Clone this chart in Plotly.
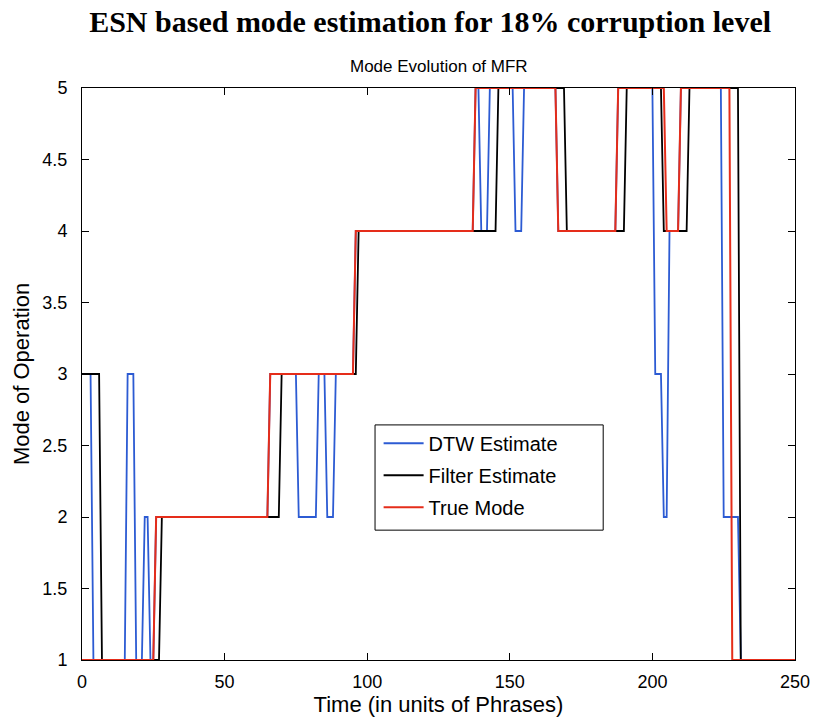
import plotly.graph_objects as go

# Mode sequences stored as change points: the mode holds from each start time
# until the next start time (time axis runs 0..250 in unit steps).
T_END = 250

true_starts = [0, 26, 66, 96, 138, 167, 188, 205, 210, 228]
true_modes  = [1, 2, 3, 4, 5, 4, 5, 4, 5, 1]

filter_starts = [0, 7, 28, 70, 97, 146, 170, 191, 204, 213, 231]
filter_modes  = [3, 1, 2, 3, 4, 5, 4, 5, 4, 5, 1]

dtw_starts = [0, 4, 16, 19, 22, 24, 26, 66, 76, 83, 86, 89, 96, 138, 140, 143,
              152, 155, 167, 188, 201, 204, 206, 210, 225, 231]
dtw_modes  = [3, 1, 3, 1, 2, 1, 2, 3, 2, 3, 2, 3, 4, 5, 4, 5,
              4, 5, 4, 5, 3, 2, 4, 5, 2, 1]

x_ticks = [0, 50, 100, 150, 200, 250]
y_ticks = [1, 1.5, 2, 2.5, 3, 3.5, 4, 4.5, 5]
y_tick_text = ["1", "1.5", "2", "2.5", "3", "3.5", "4", "4.5", "5"]


def expand(starts, modes, t_end=T_END):
    """Turn change points into one mode value per time step."""
    t, v = [], []
    bounds = starts[1:] + [t_end + 1]
    for s, e, m in zip(starts, bounds, modes):
        for k in range(s, e):
            t.append(k)
            v.append(m)
    return t, v


t_dtw, v_dtw = expand(dtw_starts, dtw_modes)
t_flt, v_flt = expand(filter_starts, filter_modes)
t_true, v_true = expand(true_starts, true_modes)

BLUE = "#2c5bd3"
RED = "#e52d1a"

fig = go.Figure()
fig.add_trace(go.Scatter(x=t_dtw, y=v_dtw, mode="lines", name="DTW Estimate",
                         line=dict(color=BLUE, width=1.8), legendgroup="a"))
fig.add_trace(go.Scatter(x=t_flt, y=v_flt, mode="lines", name="Filter Estimate",
                         line=dict(color="black", width=1.8), legendgroup="b"))
fig.add_trace(go.Scatter(x=t_true, y=v_true, mode="lines", name="True Mode",
                         line=dict(color=RED, width=2.0), legendgroup="c"))

axis_font = dict(family="Liberation Sans, Arial, sans-serif", size=18, color="black")

# legend frame (white box with black border) sitting over the data lines
legend_box = dict(type="rect", xref="paper", yref="paper",
                  x0=0.411, x1=0.731, y0=0.227, y1=0.411,
                  fillcolor="white", line=dict(color="black", width=1),
                  layer="above")

fig.update_layout(
    width=824, height=722,
    margin=dict(l=82, r=29, t=88, b=62),
    paper_bgcolor="white", plot_bgcolor="white",
    font=axis_font,
    title=dict(text="<b>ESN based mode estimation for 18% corruption level</b>",
               font=dict(family="Liberation Serif, Times New Roman, serif", size=30,
                         color="black"),
               x=0.522, xanchor="center", y=0.97, yanchor="middle"),
    annotations=[dict(text="Mode Evolution of MFR", xref="paper", yref="paper",
                      x=0.5, y=1.037, xanchor="center", yanchor="middle",
                      showarrow=False, font=dict(size=17))],
    shapes=[legend_box],
    xaxis=dict(range=[0, 250], tickvals=x_ticks, ticks="inside", ticklen=7,
               tickcolor="black", showline=True, linecolor="black", linewidth=1,
               mirror="ticks", showgrid=False, zeroline=False,
               ticklabelstandoff=5,
               title=dict(text="Time (in units of Phrases)", standoff=2),
               tickfont=axis_font),
    yaxis=dict(range=[1, 5], tickvals=y_ticks, ticktext=y_tick_text,
               ticks="inside", ticklen=7, tickcolor="black",
               showline=True, linecolor="black", linewidth=1, mirror="ticks",
               showgrid=False, zeroline=False,
               ticklabelstandoff=10,
               title=dict(text="Mode of Operation", standoff=6),
               tickfont=axis_font),
    legend=dict(x=0.416, y=0.413, xanchor="left", yanchor="top",
                bgcolor="rgba(0,0,0,0)", borderwidth=0,
                tracegroupgap=3, font=dict(size=20),
                itemwidth=40),
    showlegend=True,
)

fig.write_html("out.html")
